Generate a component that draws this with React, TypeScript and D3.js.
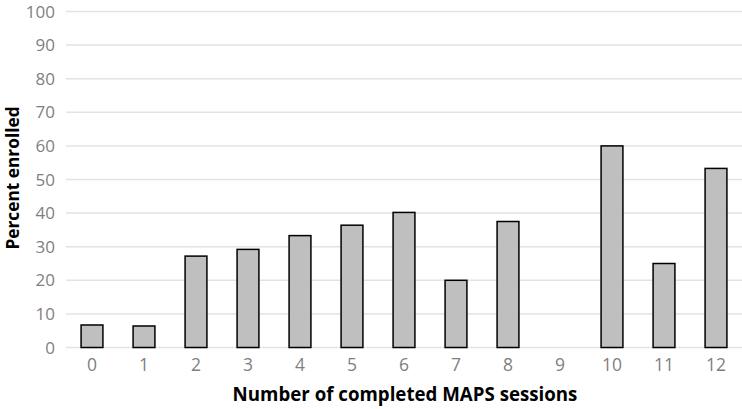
import React from 'react';
import * as d3 from 'd3';

const sessions = ['0', '1', '2', '3', '4', '5', '6', '7', '8', '9', '10', '11', '12'];
const percentEnrolled = [6.7, 6.4, 27.2, 29.2, 33.3, 36.4, 40.2, 20, 37.5, 0, 60, 25, 53.3];
const yTicks = [0, 10, 20, 30, 40, 50, 60, 70, 80, 90, 100];

const W = 742;
const H = 409;
const margin = { top: 11.5, right: 0, bottom: 61.5, left: 66 };
const FONT = '"Open Sans", "Liberation Sans", sans-serif';

export default function App() {
  const innerW = W - margin.left - margin.right;
  const innerH = H - margin.top - margin.bottom;

  const x = d3.scaleBand<string>().domain(sessions).range([0, innerW]).paddingInner(0.58).paddingOuter(0.29);
  const y = d3.scaleLinear().domain([0, 100]).range([innerH, 0]);

  return (
    <svg width={W} height={H} style={{ position: 'fixed', left: 0, top: 0, background: '#fff' }}>
      <g transform={`translate(${margin.left},${margin.top})`}>
        {yTicks.map(t => (
          <g key={t}>
            <line x1={0} x2={innerW} y1={y(t)} y2={y(t)} stroke="#e3e3e3" strokeWidth={1.5} />
            <text x={-11} y={y(t)} dy="0.36em" textAnchor="end" fontFamily={FONT} fontSize={17} fill="#7f7f7f">{t}</text>
          </g>
        ))}
        {sessions.map((s, i) => (
          <g key={s}>
            {percentEnrolled[i] > 0 && (
              <rect
                x={x(s)}
                y={y(percentEnrolled[i])}
                width={x.bandwidth()}
                height={innerH - y(percentEnrolled[i])}
                fill="#bfbfbf"
                stroke="#000"
                strokeWidth={1.5}
              />
            )}
            <text x={(x(s) ?? 0) + x.bandwidth() / 2} y={371 - margin.top} textAnchor="middle" fontFamily={FONT} fontSize={17.5} fill="#7f7f7f">{s}</text>
          </g>
        ))}
        <text x={405 - margin.left} y={401 - margin.top} textAnchor="middle" fontFamily={FONT} fontSize={18.7} fontWeight="bold" fill="#000">
          Number of completed MAPS sessions
        </text>
      </g>
      <text transform={`translate(18.5,178) rotate(-90)`} textAnchor="middle" fontFamily={FONT} fontSize={17.3} fontWeight="bold" fill="#000">
        Percent enrolled
      </text>
    </svg>
  );
}
